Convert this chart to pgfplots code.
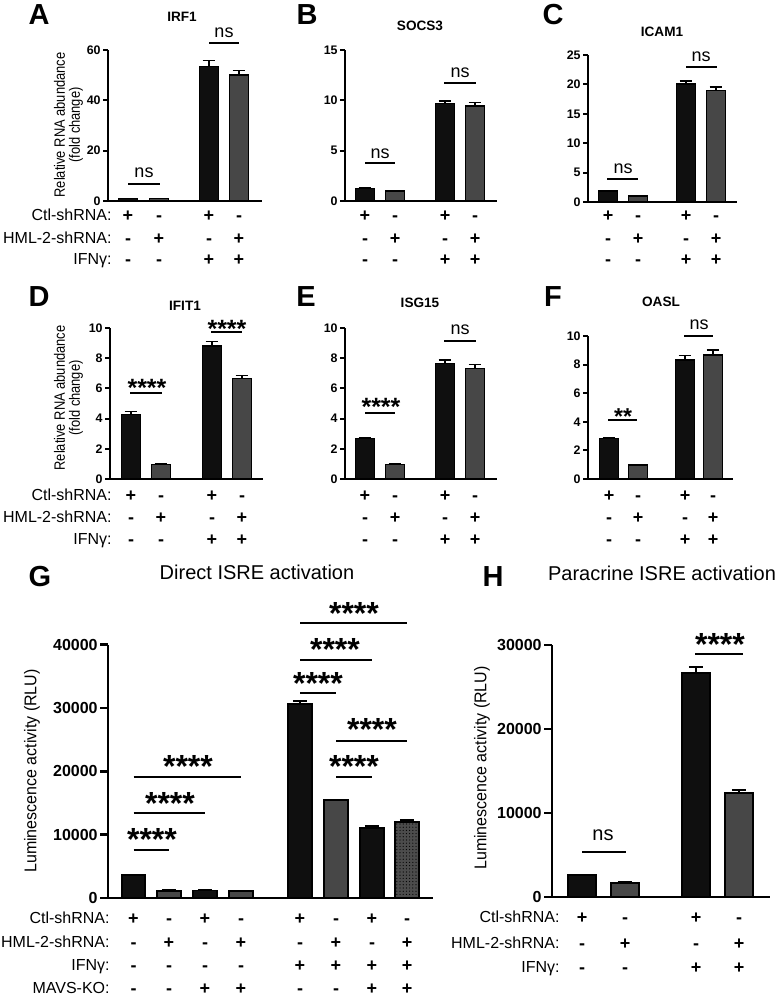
\documentclass[border=0pt]{standalone}
\usepackage{pgfplots}
\pgfplotsset{compat=1.18}
\usepackage{fontspec}
\setmainfont{Liberation Sans}
\usetikzlibrary{patterns.meta}
\definecolor{bk}{HTML}{0F0F0F}
\definecolor{gy}{HTML}{474747}
\definecolor{gd}{HTML}{4C4C4C}

\pgfplotsset{
 prism/.style={scale only axis, clip=false, axis x line=bottom, axis y line=left,
   axis line style={-, line width=1pt, black}, xtick=\empty, xmin=0, ymin=0,
   tick align=outside, major tick length=2.5pt, ytick style={line width=1pt, black},
   yticklabel style={font=\bfseries\fontsize{6.2}{6}\selectfont, inner sep=1pt},
   /pgf/number format/assume math mode=true, /pgf/number format/1000 sep={},
   scaled y ticks=false, enlargelimits=false, bar width=19},
 big/.style={prism, axis line style={line width=1.3pt}, ytick style={line width=1.3pt},
   major tick length=4pt, yticklabel style={font=\bfseries\fontsize{8}{8}\selectfont}},
 bar/.style={ybar, bar shift=0pt, fill=#1, draw=black, line width=0.7pt,
   error bars/.cd, y dir=plus, y explicit, error bar style={line width=0.7pt, black},
   error mark options={rotate=90, line width=0.7pt, black, mark size=3.2pt}},
 barB/.style={ybar, bar shift=0pt, fill=#1, draw=black, line width=0.8pt,
   error bars/.cd, y dir=plus, y explicit, error bar style={line width=0.8pt, black},
   error mark options={rotate=90, line width=0.8pt, black, mark size=3.6pt}},
}
\tikzset{
 sgn/.style={font=\bfseries\fontsize{9}{9}\selectfont, anchor=base, inner sep=0pt},
 rl/.style={font=\fontsize{8}{8}\selectfont, anchor=base east, inner sep=0pt},
 ttl/.style={font=\bfseries\fontsize{6.8}{7}\selectfont, inner sep=0pt},
 lett/.style={font=\bfseries\fontsize{14.5}{15}\selectfont, inner sep=0pt},
 gt/.style={font=\fontsize{10}{11}\selectfont, inner sep=0pt},
 ns/.style={font=\fontsize{9}{10}\selectfont, inner sep=0pt},
 nsb/.style={font=\fontsize{10}{11}\selectfont, inner sep=0pt},
 stL/.style={font=\bfseries\fontsize{16}{16}\selectfont, inner sep=0pt, yshift=-3.4pt},
 stS/.style={font=\bfseries\fontsize{12.5}{12}\selectfont, inner sep=0pt, yshift=-2.7pt},
 stT/.style={font=\bfseries\fontsize{11.5}{12}\selectfont, inner sep=0pt, yshift=-2.5pt},
 sl/.style={line width=0.6pt},
 slb/.style={line width=1.1pt},
}
\newcommand{\signs}[7]{%
 \node[sgn] at (#1,#5+6) {+}; \node[sgn] at (#2,#5+6) {-}; \node[sgn] at (#3,#5+6) {+}; \node[sgn] at (#4,#5+6) {-};
 \node[sgn] at (#1,#6+6) {-}; \node[sgn] at (#2,#6+6) {+}; \node[sgn] at (#3,#6+6) {-}; \node[sgn] at (#4,#6+6) {+};
 \node[sgn] at (#1,#7+6) {-}; \node[sgn] at (#2,#7+6) {-}; \node[sgn] at (#3,#7+6) {+}; \node[sgn] at (#4,#7+6) {+};}
\newcommand{\rlabs}[4]{%
 \node[rl] at (#1,#2+5.5) {Ctl-shRNA:}; \node[rl] at (#1,#3+5.5) {HML-2-shRNA:}; \node[rl] at (#1,#4+5.5) {IFNγ:};}

\begin{document}
\begin{tikzpicture}
\begin{scope}[x=0.5pt,y=-0.5pt]
\useasboundingbox (0,0) rectangle (771,1000);
\end{scope}

% ---------------- A
\begin{axis}[prism, at={(54pt,-100.5pt)}, anchor=south west, width=77pt, height=75.5pt, xmax=154, ymax=60, ytick={0,20,40,60}]
\addplot[bar=bk] coordinates {(20,0.95) +- (0,0.05) (101,53.4) +- (0,2.4)};
\addplot[bar=gy] coordinates {(51,0.98) +- (0,0.05) (131,50.1) +- (0,1.7)};
\draw[sl] (axis cs:20,6.75) -- (axis cs:52,6.75);
\node[ns] at (axis cs:36,11.1) {ns};
\draw[sl] (axis cs:101,62.8) -- (axis cs:131,62.8);
\node[ns] at (axis cs:116,66.8) {ns};
\end{axis}

% ---------------- B
\begin{axis}[prism, at={(172.5pt,-100.5pt)}, anchor=south west, width=76pt, height=75.5pt, xmax=152, ymax=15, ytick={0,5,10,15}]
\addplot[bar=bk] coordinates {(20,1.26) +- (0,0.04) (100,9.7) +- (0,0.23)};
\addplot[bar=gy] coordinates {(50,0.99) +- (0,0.03) (130,9.44) +- (0,0.33)};
\draw[sl] (axis cs:20,3.78) -- (axis cs:50,3.78);
\node[ns] at (axis cs:35,4.67) {ns};
\draw[sl] (axis cs:99,11.72) -- (axis cs:131,11.72);
\node[ns] at (axis cs:115,12.7) {ns};
\end{axis}

% ---------------- C
\begin{axis}[prism, at={(294pt,-101pt)}, anchor=south west, width=74.5pt, height=73.5pt, xmax=149, ymax=25, ytick={0,5,10,15,20,25}]
\addplot[bar=bk] coordinates {(20,1.87) +- (0,0.05) (98,20.07) +- (0,0.5)};
\addplot[bar=gy] coordinates {(50,1.02) +- (0,0.05) (128,18.93) +- (0,0.65)};
\draw[sl] (axis cs:19,3.91) -- (axis cs:50,3.91);
\node[ns] at (axis cs:35,5.6) {ns};
\draw[sl] (axis cs:98,22.96) -- (axis cs:129,22.96);
\node[ns] at (axis cs:113,24.66) {ns};
\end{axis}

% ---------------- D
\begin{axis}[prism, at={(55pt,-239.5pt)}, anchor=south west, width=76.5pt, height=75.5pt, xmax=153, ymax=10, ytick={0,2,4,6,8,10}]
\addplot[bar=bk] coordinates {(21,4.28) +- (0,0.18) (102,8.81) +- (0,0.28)};
\addplot[bar=gy] coordinates {(51,0.97) +- (0,0.02) (132,6.64) +- (0,0.23)};
\draw[sl] (axis cs:20,5.7) -- (axis cs:52,5.7);
\node[stS] at (axis cs:37,6.36) {****};
\draw[sl] (axis cs:101,9.74) -- (axis cs:132,9.74);
\node[stS] at (axis cs:117,10.33) {****};
\end{axis}

% ---------------- E
\begin{axis}[prism, at={(172.5pt,-239.5pt)}, anchor=south west, width=76pt, height=75.5pt, xmax=152, ymax=10, ytick={0,2,4,6,8,10}]
\addplot[bar=bk] coordinates {(20,2.67) +- (0,0.05) (100,7.66) +- (0,0.22)};
\addplot[bar=gy] coordinates {(50,0.97) +- (0,0.02) (130,7.33) +- (0,0.24)};
\draw[sl] (axis cs:20,4.37) -- (axis cs:50,4.37);
\node[stS] at (axis cs:36,5.1) {****};
\draw[sl] (axis cs:99,9.14) -- (axis cs:131,9.14);
\node[ns] at (axis cs:115,9.87) {ns};
\end{axis}

% ---------------- F
\begin{axis}[prism, at={(294pt,-239.5pt)}, anchor=south west, width=72.5pt, height=71.5pt, xmax=145, ymax=10, ytick={0,2,4,6,8,10}]
\addplot[bar=bk] coordinates {(21,2.85) +- (0,0.07) (97,8.32) +- (0,0.3)};
\addplot[bar=gy] coordinates {(50,0.98) +- (0,0.02) (125,8.67) +- (0,0.35)};
\draw[sl] (axis cs:20,4.13) -- (axis cs:49,4.13);
\node[stT] at (axis cs:35,4.69) {**};
\draw[sl] (axis cs:96,10.0) -- (axis cs:125,10.0);
\node[ns] at (axis cs:111,10.77) {ns};
\end{axis}

% ---------------- G
\begin{axis}[big, at={(54pt,-449pt)}, anchor=south west, width=162.5pt, height=126.65pt, xmax=325, ymax=40000, ytick={0,10000,20000,30000,40000}, bar width=23.5]
\addplot[barB=bk] coordinates {(25.5,3630) +- (0,30) (97,1200) +- (0,80) (192,30630) +- (0,470) (264,11050) +- (0,320)};
\addplot[barB=gy] coordinates {(61,1150) +- (0,100) (133,1100) +- (0,70) (228,15470) +- (0,100)};
\addplot[postaction={pattern={Dots[distance=1.6pt, radius=0.3pt]}, pattern color=black}, barB=gd] coordinates {(299,12000) +- (0,320)};
\draw[slb] (axis cs:25.5,7580) -- (axis cs:61,7580);
\node[stL] at (axis cs:44,10260) {****};
\draw[slb] (axis cs:25.5,13420) -- (axis cs:97,13420);
\node[stL] at (axis cs:62,15950) {****};
\draw[slb] (axis cs:25.5,19110) -- (axis cs:133,19110);
\node[stL] at (axis cs:80,21790) {****};
\draw[slb] (axis cs:192,32370) -- (axis cs:228,32370);
\node[stL] at (axis cs:210,34900) {****};
\draw[slb] (axis cs:192,37580) -- (axis cs:264,37580);
\node[stL] at (axis cs:227,40270) {****};
\draw[slb] (axis cs:192,43430) -- (axis cs:299,43430);
\node[stL] at (axis cs:246,45950) {****};
\draw[slb] (axis cs:228,24790) -- (axis cs:299,24790);
\node[stL] at (axis cs:264,27630) {****};
\draw[slb] (axis cs:228,19110) -- (axis cs:264,19110);
\node[stL] at (axis cs:246,21790) {****};
\end{axis}

% ---------------- H
\begin{axis}[big, at={(276pt,-448.5pt)}, anchor=south west, width=109pt, height=126pt, xmax=218, ymax=30000, ytick={0,10000,20000,30000}, bar width=28]
\addplot[barB=bk] coordinates {(30,2620) +- (0,80) (144,26670) +- (0,700)};
\addplot[barB=gy] coordinates {(73,1670) +- (0,100) (187,12380) +- (0,360)};
\draw[slb] (axis cs:30,5357) -- (axis cs:74,5357);
\node[nsb] at (axis cs:51,7381) {ns};
\draw[slb] (axis cs:143,28929) -- (axis cs:191,28929);
\node[stL] at (axis cs:168,30833) {****};
\end{axis}

\begin{scope}[x=0.5pt,y=-0.5pt]
% letters and titles
\node[lett] at (39,15) {A}; \node[ttl] at (182,17) {IRF1};
\node[lett] at (307,15) {B}; \node[ttl] at (420,26) {SOCS3};
\node[lett] at (553,15) {C}; \node[ttl] at (662,32) {ICAM1};
\node[lett] at (39,297) {D}; \node[ttl] at (185,306) {IFIT1};
\node[lett] at (306,297) {E}; \node[ttl] at (420,303) {ISG15};
\node[lett] at (553,297) {F}; \node[ttl] at (661,302) {OASL};
\node[lett] at (40,577) {G}; \node[gt] at (257,572) {Direct ISRE activation};
\node[lett] at (493,577) {H}; \node[gt] at (662,573) {Paracrine ISRE activation};
% y labels
\node[rotate=90, font=\fontsize{7.5}{7}\selectfont, inner sep=0pt] at (69,125) {\scalebox{0.86}[1]{\begin{tabular}{@{}c@{}}Relative RNA abundance\\(fold change)\end{tabular}}};
\node[rotate=90, font=\fontsize{7.5}{7}\selectfont, inner sep=0pt] at (69,398) {\scalebox{0.86}[1]{\begin{tabular}{@{}c@{}}Relative RNA abundance\\(fold change)\end{tabular}}};
\node[rotate=90, font=\fontsize{8.5}{9}\selectfont, inner sep=0pt] at (32,771) {\scalebox{0.94}[1]{Luminescence activity (RLU)}};
\node[rotate=90, font=\fontsize{8.5}{9}\selectfont, inner sep=0pt] at (482,768) {\scalebox{0.94}[1]{Luminescence activity (RLU)}};
% sign rows
\signs{128}{159}{209}{239}{215}{238}{259}
\signs{365}{395}{445}{475}{215}{238}{259}
\signs{608}{638}{686}{716}{215}{238}{259}
\signs{131}{161}{212}{242}{495}{517}{539}
\signs{365}{395}{445}{475}{495}{517}{539}
\signs{609}{638}{685}{713}{495}{517}{539}
\signs{582}{625}{696}{739}{917}{943}{967}
\rlabs{112}{215}{238}{259}
\rlabs{112}{495}{517}{539}
\rlabs{560}{917}{943}{967}
% G rows
\foreach \x/\a/\b/\c/\d in {133.5/+/-/-/-, 169/-/+/-/-, 205/+/-/-/+, 241/-/+/-/+, 300/+/-/+/-, 336/-/+/+/-, 372/+/-/+/+, 407/-/+/+/+}{
  \node[sgn] at (\x,918+6) {\a};
  \node[sgn] at (\x,942+6) {\b};
  \node[sgn] at (\x,965+6) {\c};
  \node[sgn] at (\x,988+6) {\d};
}
\rlabs{110}{918}{942}{965}
\node[rl] at (110,988+5.5) {MAVS-KO:};
\end{scope}
\end{tikzpicture}
\end{document}
